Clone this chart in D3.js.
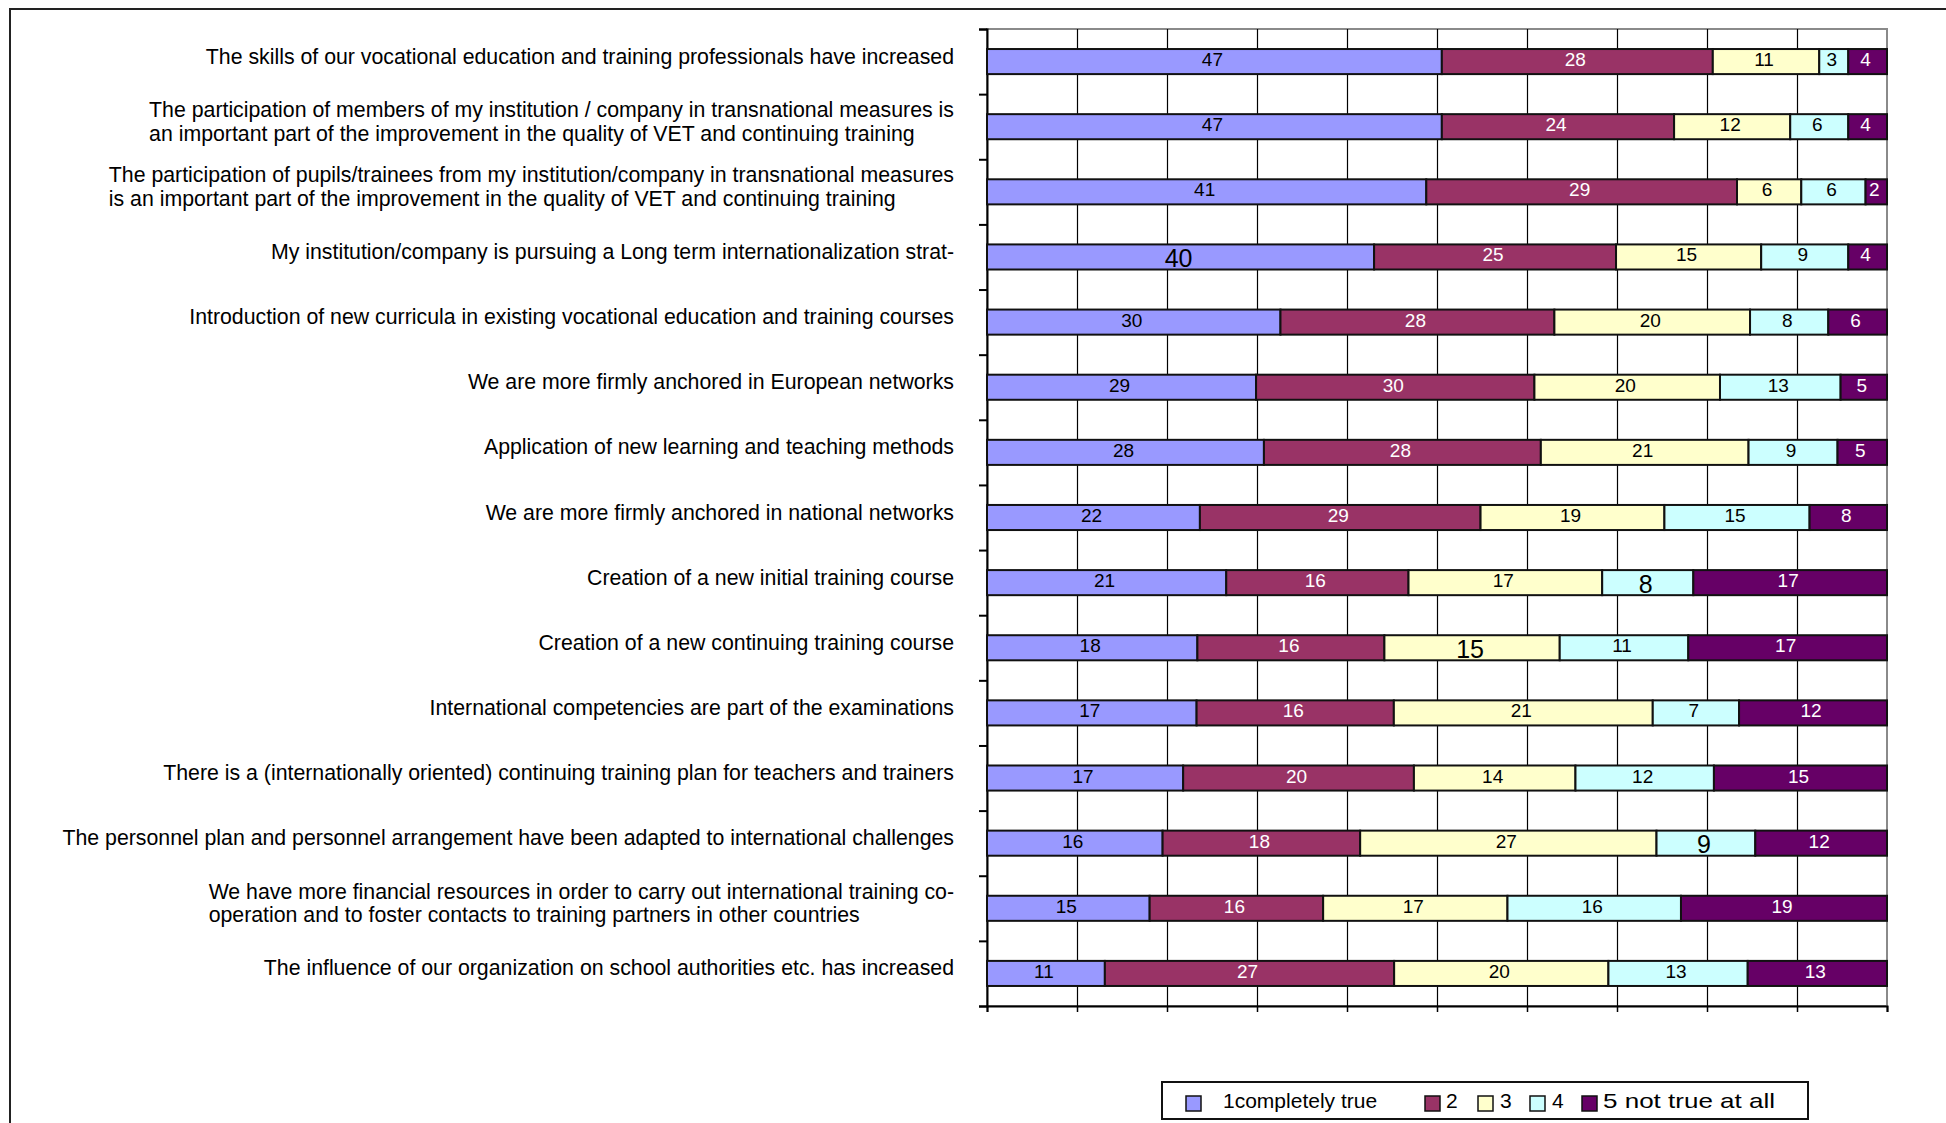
<!DOCTYPE html>
<html>
<head>
<meta charset="utf-8">
<script src="https://cdn.jsdelivr.net/npm/d3@7"></script>
<style>
  html, body { margin: 0; padding: 0; background: #fff; }
  svg { display: block; font-family: "Liberation Sans", Arial, sans-serif; }
</style>
</head>
<body>
<svg id="chart" width="1946" height="1123"></svg>
<script>
const categories = [
  "The skills of our vocational education and training professionals have increased",
  "The participation of members of my institution / company in transnational measures is\nan important part of the improvement in the quality of VET and continuing training",
  "The participation of pupils/trainees from my institution/company in transnational measures\nis an important part of the improvement in the quality of VET and continuing training",
  "My institution/company is pursuing a Long term internationalization strat-",
  "Introduction of new curricula in existing vocational education and training courses",
  "We are more firmly anchored in European networks",
  "Application of new learning and teaching methods",
  "We are more firmly anchored in national networks",
  "Creation of a new initial training course",
  "Creation of a new continuing training course",
  "International competencies are part of the examinations",
  "There is a (internationally oriented) continuing training plan for teachers and trainers",
  "The personnel plan and personnel arrangement have been adapted to international challenges",
  "We have more financial resources in order to carry out international training co-\noperation and to foster contacts to training partners in other countries",
  "The influence of our organization on school authorities etc. has increased"
];
const seriesNames = ["1completely true", "2", "3", "4", "5 not true at all"];
const s1 = [47, 47, 41, 40, 30, 29, 28, 22, 21, 18, 17, 17, 16, 15, 11];
const s2 = [28, 24, 29, 25, 28, 30, 28, 29, 16, 16, 16, 20, 18, 16, 27];
const s3 = [11, 12,  6, 15, 20, 20, 21, 19, 17, 15, 21, 14, 27, 17, 20];
const s4 = [ 3,  6,  6,  9,  8, 13,  9, 15,  8, 11,  7, 12,  9, 16, 13];
const s5 = [ 4,  4,  2,  4,  6,  5,  5,  8, 17, 17, 12, 15, 12, 19, 13];
const xTicks = [0, 10, 20, 30, 40, 50, 60, 70, 80, 90, 100];

// style: labels drawn in a larger font in the original
const largeLabels = [[3, 0], [8, 3], [9, 2], [12, 3]];
const colors = ["#9999FF", "#993366", "#FFFFCC", "#CCFFFF", "#660066"];
const labelColors = ["#000", "#fff", "#000", "#000", "#fff"];

(function () {
const series = [s1, s2, s3, s4, s5];
const svg = d3.select("#chart");

// outer frame
svg.append("path").attr("d", "M10,1123 V9 H1946")
  .attr("fill", "none").attr("stroke", "#222").attr("stroke-width", 2);

const pL = 987, pR = 1887, pT = 29, pB = 1006;
const x = d3.scaleLinear().domain([0, 100]).range([pL, pR]);
const y = d3.scaleBand().domain(d3.range(categories.length)).range([pT, pB])
  .paddingInner(0.615).paddingOuter(0.3075);

// build 100% stacked rows
const rows = categories.map((c, i) => {
  const vals = series.map(s => s[i]);
  const sum = d3.sum(vals);
  let acc = 0;
  return vals.map((v, k) => {
    const x0 = acc / sum * 100; acc += v;
    return {row: i, k, v, x0, x1: acc / sum * 100};
  });
});

// plot area border (grey)
svg.append("rect").attr("x", pL).attr("y", pT).attr("width", pR - pL).attr("height", pB - pT)
  .attr("fill", "#fff").attr("stroke", "#8a8a8a").attr("stroke-width", 2);

// vertical grid
svg.append("g").selectAll("line").data(xTicks.slice(1, -1)).join("line")
  .attr("x1", d => Math.round(x(d)) + 0.5).attr("x2", d => Math.round(x(d)) + 0.5)
  .attr("y1", pT).attr("y2", pB).attr("stroke", "#000").attr("stroke-width", 1.2);

// bottom axis
const xAxis = d3.axisBottom(x).tickValues(xTicks).tickSize(6).tickFormat("");
const gx = svg.append("g").attr("transform", `translate(0,${pB})`).call(xAxis);
gx.select(".domain").attr("stroke", "#000").attr("stroke-width", 2);
gx.selectAll(".tick line").attr("stroke", "#000").attr("stroke-width", 1.5);

// left axis: ticks at band boundaries
const yb = d3.scaleLinear().domain([0, categories.length]).range([pT, pB]);
const yAxis = d3.axisLeft(yb).tickValues(d3.range(categories.length + 1)).tickSize(8).tickFormat("");
const gy = svg.append("g").attr("transform", `translate(${pL},0)`).call(yAxis);
gy.select(".domain").attr("stroke", "#000").attr("stroke-width", 2);
gy.selectAll(".tick line").attr("stroke", "#000").attr("stroke-width", 2);

// bars
const bars = svg.append("g");
rows.forEach(row => {
  bars.selectAll(null).data(row).join("rect")
    .attr("x", d => x(d.x0)).attr("width", d => x(d.x1) - x(d.x0))
    .attr("y", d => y(d.row)).attr("height", y.bandwidth())
    .attr("fill", d => colors[d.k]).attr("stroke", "#111").attr("stroke-width", 2);
});

// value labels
const isLarge = (r, k) => largeLabels.some(p => p[0] === r && p[1] === k);
rows.forEach(row => {
  bars.selectAll(null).data(row).join("text")
    .attr("x", d => (x(d.x0) + x(d.x1)) / 2 - 2)
    .attr("y", d => y(d.row) + y.bandwidth() / 2 + (isLarge(d.row, d.k) ? 1 : -2))
    .attr("text-anchor", "middle").attr("dominant-baseline", "central")
    .attr("font-size", d => isLarge(d.row, d.k) ? 25 : 19)
    .attr("fill", d => labelColors[d.k])
    .text(d => d.v);
});

// category labels
const labelRight = 954;
const lineH = 23.6;
categories.forEach((c, i) => {
  const lines = c.split("\n");
  const cy = y(i) + y.bandwidth() / 2 - 5;
  const t = svg.append("text").attr("font-size", 21.3).attr("fill", "#000");
  lines.forEach((ln, j) => {
    t.append("tspan").attr("x", 0)
      .attr("y", cy + (j - (lines.length - 1) / 2) * lineH)
      .attr("dominant-baseline", "central").text(ln);
  });
  const w = t.node().getBBox().width;
  t.attr("transform", `translate(${labelRight - w},0)`);
});

// legend
const lg = svg.append("g");
lg.append("rect").attr("x", 1162).attr("y", 1082).attr("width", 646).attr("height", 37)
  .attr("fill", "#fff").attr("stroke", "#111").attr("stroke-width", 2);
const legendItems = [
  {sq: 1186, tx: 1223, len: 0}, {sq: 1425, tx: 1446, len: 0}, {sq: 1478, tx: 1500, len: 0},
  {sq: 1530, tx: 1552, len: 0}, {sq: 1582, tx: 1603, len: 172}
];
seriesNames.forEach((n, k) => {
  lg.append("rect").attr("x", legendItems[k].sq).attr("y", 1096).attr("width", 15).attr("height", 15)
    .attr("fill", colors[k]).attr("stroke", "#111").attr("stroke-width", 1.5);
  const t = lg.append("text").attr("x", legendItems[k].tx).attr("y", 1108)
    .attr("font-size", 21).text(n);
  if (legendItems[k].len) t.attr("textLength", legendItems[k].len).attr("lengthAdjust", "spacingAndGlyphs");
});
})();
</script>
</body>
</html>
